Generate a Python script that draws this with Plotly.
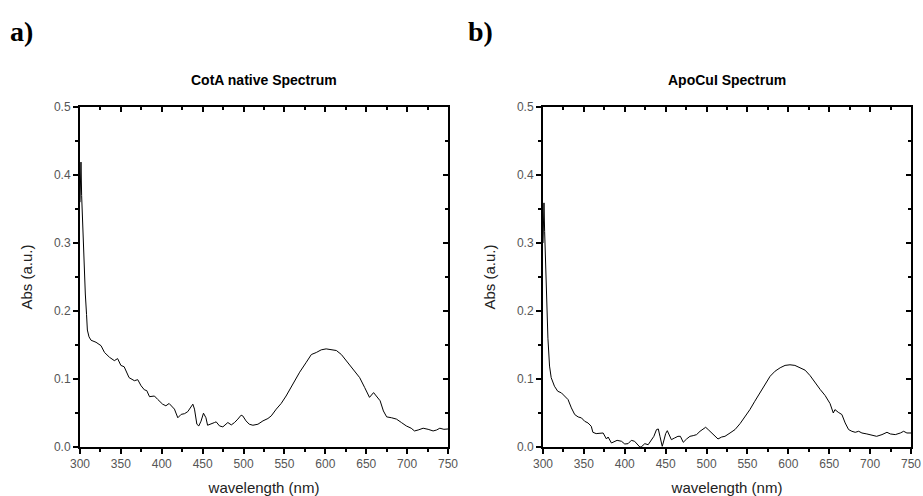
import plotly.graph_objects as go

# ---- data ----
wl_a = [300, 301.2, 302, 303, 304, 305, 306.5, 308, 309, 311, 313.5, 319.6, 325.7, 330, 336, 342, 346, 350,
        354, 360, 366.5, 370.6, 374.7, 378.8, 381.6, 385, 391, 395, 401, 405, 409, 415.5, 419.6, 423.7,
        427.8, 431.8, 436, 438, 440, 442.9, 445.3, 448, 451, 454, 456, 460.4, 464.5, 466.5, 470.6, 474.7,
        478.8, 480.8, 485, 489, 493, 497, 499, 503, 507, 511.4, 517.6, 523.7, 529.8, 533.9, 540, 546, 552,
        560, 568.6, 576.7, 582.9, 589, 595, 601, 607, 613.5, 619.6, 625.7, 634, 642, 648, 654, 659, 663,
        667, 671, 675, 681, 687, 693, 699, 705, 709, 713.5, 719.6, 725.7, 731.8, 736, 740, 745, 750]
abs_a = [0.36, 0.419, 0.37, 0.33, 0.29, 0.26, 0.225, 0.195, 0.172, 0.162, 0.157, 0.154, 0.149, 0.139, 0.132,
         0.127, 0.130, 0.120, 0.118, 0.102, 0.0975, 0.099, 0.090, 0.084, 0.083, 0.074, 0.075, 0.070, 0.063,
         0.0606, 0.064, 0.0557, 0.043, 0.048, 0.049, 0.052, 0.0606, 0.063, 0.0557, 0.0335, 0.031, 0.038,
         0.0497, 0.043, 0.032, 0.0335, 0.036, 0.037, 0.031, 0.0296, 0.0345, 0.036, 0.0325, 0.036, 0.041,
         0.0468, 0.0458, 0.0384, 0.0335, 0.032, 0.0335, 0.0384, 0.0419, 0.0458, 0.0557, 0.064, 0.075,
         0.0926, 0.110, 0.1246, 0.136, 0.139, 0.1429, 0.1443, 0.1433, 0.1419, 0.136, 0.127, 0.115, 0.102,
         0.0877, 0.073, 0.080, 0.074, 0.068, 0.053, 0.0443, 0.043, 0.041, 0.036, 0.031, 0.0276, 0.0236,
         0.025, 0.0276, 0.026, 0.0236, 0.025, 0.0276, 0.026, 0.0265]

wl_b = [300, 301.2, 302, 303, 304, 306, 308, 310, 314, 318, 322.5, 326.5, 330.6, 334.7, 338.8, 343, 347, 351,
        355, 359, 361, 365, 369, 373.5, 377.6, 379.6, 383.7, 387.8, 390.6, 396, 400, 404, 408, 412, 414,
        418.4, 420, 424.5, 428.6, 432.7, 435.6, 438.8, 441, 443, 445.8, 447, 450, 452, 454.3, 457, 461,
        465, 468, 471.5, 475.6, 479.7, 483.7, 487.8, 492, 496, 498.9, 502, 506, 510.3, 514, 518.5, 522.5,
        528.7, 534.8, 541, 547, 553, 559, 565, 571.5, 577.7, 583.8, 590, 596, 602, 608, 614, 620.5, 626.6,
        632.8, 639, 645, 651, 655, 657, 661, 665.5, 669.5, 673.7, 677.7, 681.8, 686, 690, 696, 702, 708,
        714.5, 720.6, 724.7, 730.8, 737, 741, 745, 750]
abs_b = [0.30, 0.359, 0.317, 0.275, 0.24, 0.16, 0.119, 0.102, 0.0894, 0.082, 0.0796, 0.0747, 0.0698, 0.0575,
         0.0477, 0.0442, 0.0428, 0.0378, 0.0354, 0.0305, 0.0216, 0.0197, 0.0206, 0.0206, 0.0118, 0.0147,
         0.0059, 0.0084, 0.0098, 0.0084, 0.0044, 0.0049, 0.0098, 0.0084, 0.0059, 0.0, 0.0, 0.0049, 0.0034,
         0.0108, 0.0157, 0.0256, 0.0265, 0.0157, 0.001, 0.0059, 0.0197, 0.024, 0.0182, 0.0108, 0.0133,
         0.0157, 0.0157, 0.0069, 0.0118, 0.0157, 0.0167, 0.0182, 0.0231, 0.0265, 0.029, 0.0256, 0.0206,
         0.0157, 0.0118, 0.0147, 0.0157, 0.0206, 0.0256, 0.0344, 0.0442, 0.055, 0.0673, 0.0796, 0.0919,
         0.104, 0.1115, 0.1165, 0.120, 0.1209, 0.120, 0.1165, 0.113, 0.105, 0.0943, 0.0845, 0.0757, 0.0639,
         0.050, 0.055, 0.0511, 0.0477, 0.0354, 0.0256, 0.0231, 0.0216, 0.0231, 0.0206, 0.0192, 0.0172,
         0.0157, 0.0182, 0.0216, 0.0192, 0.0182, 0.0206, 0.0231, 0.0206, 0.0206]

titles = ["CotA native Spectrum", "ApoCuI Spectrum"]
panel_labels = ["a)", "b)"]
x_title = "wavelength (nm)"
y_title = "Abs (a.u.)"
x_range = [300, 750]
y_range = [0, 0.5]

W, H = 923, 496
TICKFONT = dict(family="Liberation Sans, Arial, sans-serif", size=12, color="#555")
TITLEFONT = dict(family="Liberation Sans, Arial, sans-serif", size=15, color="#222")

fig = go.Figure()

panels = [
    dict(wl=wl_a, ab=abs_a, xd=[80 / W, 448 / W], xs=("x", "x3"), ys=("y", "y3")),
    dict(wl=wl_b, ab=abs_b, xd=[543 / W, 911 / W], xs=("x2", "x4"), ys=("y2", "y4")),
]
ydom = [49 / H, 389 / H]

layout = dict(width=W, height=H, margin=dict(l=0, r=0, t=0, b=0, autoexpand=False),
              paper_bgcolor="white", plot_bgcolor="white", showlegend=False)

def axname(a):
    return "xaxis" + a[1:] if a.startswith("x") else "yaxis" + a[1:]

for i, p in enumerate(panels):
    xm, xt = p["xs"]
    ym, yr = p["ys"]
    fig.add_trace(go.Scatter(x=p["wl"], y=p["ab"], mode="lines", xaxis=xm, yaxis=ym,
                             line=dict(color="black", width=1), hoverinfo="skip"))
    fig.add_trace(go.Scatter(x=p["wl"], y=p["ab"], mode="lines", xaxis=xt, yaxis=yr,
                             line=dict(color="rgba(0,0,0,0)", width=0), hoverinfo="skip"))
    common = dict(showgrid=False, zeroline=False, showline=True, linecolor="black", linewidth=2,
                  tickcolor="black", tickwidth=2, ticklen=5, automargin=False)
    layout[axname(xm)] = dict(common, domain=p["xd"], range=x_range, anchor=ym, side="bottom",
                              ticks="outside", dtick=50, tick0=300, tickfont=TICKFONT,
                              minor=dict(ticks="outside", dtick=25, ticklen=3, tickwidth=2, tickcolor="black"),
                              title=dict(text=x_title, font=TITLEFONT, standoff=12))
    layout[axname(ym)] = dict(common, domain=ydom, range=y_range, anchor=xm, side="left",
                              ticks="outside", dtick=0.1, tickformat=".1f", tickfont=TICKFONT,
                              minor=dict(ticks="outside", dtick=0.05, ticklen=3, tickwidth=2, tickcolor="black"),
                              title=dict(text=y_title, font=TITLEFONT, standoff=18))
    layout[axname(xt)] = dict(common, overlaying=xm, range=x_range, anchor=ym, side="top",
                              ticks="inside", dtick=50, tick0=300, showticklabels=False,
                              minor=dict(ticks="inside", dtick=25, ticklen=3, tickwidth=2, tickcolor="black"))
    layout[axname(yr)] = dict(common, overlaying=ym, range=y_range, anchor=xm, side="right",
                              ticks="inside", dtick=0.1, showticklabels=False,
                              minor=dict(ticks="inside", dtick=0.05, ticklen=3, tickwidth=2, tickcolor="black"))

fig.update_layout(**layout)

for i, p in enumerate(panels):
    cx = (p["xd"][0] + p["xd"][1]) / 2
    fig.add_annotation(text="<b>" + titles[i] + "</b>", x=cx, y=(H - 80) / H, xref="paper", yref="paper",
                       showarrow=False, xanchor="center", yanchor="middle",
                       font=dict(family="Liberation Sans, Arial, sans-serif", size=14, color="black"))
    fig.add_annotation(text="<b>" + panel_labels[i] + "</b>", x=[8 / W, 466 / W][i], y=(H - 31) / H,
                       xref="paper", yref="paper", showarrow=False, xanchor="left", yanchor="middle",
                       font=dict(family="Liberation Serif, DejaVu Serif, serif", size=28, color="black"))

fig.write_html("out.html")
